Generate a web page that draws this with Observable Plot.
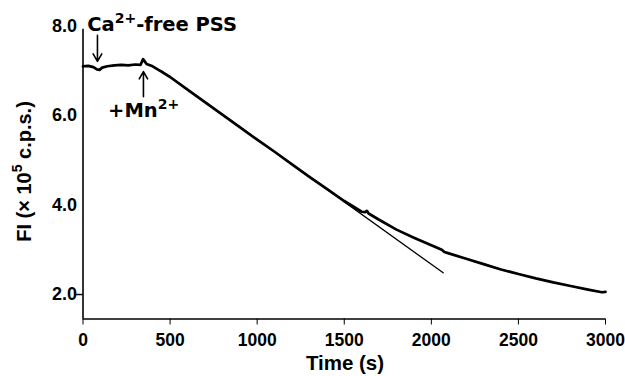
<!DOCTYPE html>
<html>
<head>
<meta charset="utf-8">
<script src="https://cdn.jsdelivr.net/npm/d3@7"></script>
<script src="https://cdn.jsdelivr.net/npm/@observablehq/plot@0.6"></script>
<style>
  html, body { margin: 0; padding: 0; background: white; }
</style>
</head>
<body>
<div id="chart"></div>
<script>
// Fluorescence trace (FI, x10^5 c.p.s.)
const time = [0, 30, 60, 80, 95, 110, 140, 180, 220, 260, 300, 330, 345, 352, 365, 400, 450, 500, 600, 700, 800, 900, 1000, 1100, 1200, 1300, 1400, 1500, 1600, 1620, 1630, 1640, 1700, 1800, 1900, 2000, 2060, 2075, 2100, 2200, 2300, 2400, 2500, 2600, 2700, 2800, 2900, 2980, 3000];
const fi   = [7.10, 7.11, 7.08, 7.03, 7.02, 7.07, 7.10, 7.12, 7.13, 7.12, 7.14, 7.13, 7.26, 7.22, 7.15, 7.10, 6.98, 6.86, 6.58, 6.30, 6.02, 5.74, 5.46, 5.19, 4.91, 4.63, 4.36, 4.09, 3.85, 3.84, 3.87, 3.81, 3.67, 3.45, 3.27, 3.10, 3.00, 2.95, 2.92, 2.80, 2.68, 2.56, 2.46, 2.36, 2.27, 2.19, 2.11, 2.05, 2.06];

// Fitted straight line (initial slope)
const fitTime = [450, 2068];
const fitFI   = [7.00, 2.485];

// Axes
const xTicks = [0, 500, 1000, 1500, 2000, 2500, 3000];
const yTicks = [2, 4, 6, 8];
const xDomain = [0, 3000];
const yDomain = [1.453, 8.0];
const yAxisTop = 7.93;
const xTitle = "Time (s)";
const yTitle = "FI (\u00d7 10{5} c.p.s.)";

// Annotations
const labelText = ["Ca{2+}-free PSS", "+Mn{2+}"];
const labelTime = [24, 144];
const labelFI   = [8.02, 6.10];
const arrowTime = [83, 347];
const arrowFrom = [7.79, 6.42];
const arrowTo   = [7.21, 6.98];

const curve = time.map((t, i) => ({t, v: fi[i]}));
const fit = fitTime.map((t, i) => ({t, v: fitFI[i]}));
const labels = labelText.map((s, i) => ({s, t: labelTime[i], v: labelFI[i]}));
const arrows = arrowTime.map((t, i) => ({t, v1: arrowFrom[i], v2: arrowTo[i]}));

const sans = "'Liberation Sans', Arial, Helvetica, sans-serif";
const wide = "'DejaVu Sans', 'Liberation Sans', Arial, sans-serif";

const chart = Plot.plot({
  width: 625,
  height: 376,
  marginLeft: 82.5,
  marginRight: 20,
  marginTop: 25.5,
  marginBottom: 57.5,
  x: {domain: xDomain},
  y: {domain: yDomain},
  style: {fontFamily: sans, fontWeight: "bold", fontSize: "17.5px", background: "white", color: "black", overflow: "visible"},
  marks: [
    Plot.axisX(xTicks, {tickSize: 6, tickPadding: 9, fontSize: 17.5, label: null, tickFormat: d => String(d)}),
    Plot.axisY(yTicks, {tickSize: 0, tickPadding: 6, fontSize: 18, tickFormat: d3.format(".1f"), label: null}),
    Plot.axisY([yTicks[0]], {tickSize: 7, tickFormat: () => "", label: null, strokeWidth: 1.5}),
    Plot.ruleX([xDomain[0]], {y1: yDomain[0], y2: yAxisTop, strokeWidth: 1.6}),
    Plot.ruleY([yDomain[0]], {strokeWidth: 1.6}),
    Plot.line(curve, {x: "t", y: "v", stroke: "black", strokeWidth: 2.7, strokeLinejoin: "round"}),
    Plot.line(fit, {x: "t", y: "v", stroke: "black", strokeWidth: 1.3}),
    Plot.arrow(arrows, {x: "t", y1: "v1", y2: "v2", stroke: "black", strokeWidth: 1.6, headLength: 9, bend: false}),
    Plot.text(labels, {x: "t", y: "v", text: "s", textAnchor: "start", lineAnchor: "middle", fontSize: 19.5, fontWeight: "bold", fontFamily: wide})
  ]
});

document.getElementById("chart").appendChild(chart);

// Superscripts: turn {..} into raised tspans
function superscript(textEl, size) {
  const s = textEl.textContent;
  if (!s.includes("{")) return;
  const parts = s.split(/(\{[^}]*\})/).filter(p => p.length);
  const tspans = textEl.querySelectorAll("tspan");
  const target = tspans.length ? tspans[0] : textEl;
  target.textContent = "";
  const ns = "http://www.w3.org/2000/svg";
  let pending = 0;
  parts.forEach(p => {
    const ts = document.createElementNS(ns, "tspan");
    if (p.startsWith("{")) {
      ts.textContent = p.slice(1, -1);
      ts.setAttribute("font-size", Math.round(size * 0.7));
      ts.setAttribute("dy", -size * 0.42);
      pending = size * 0.42;
    } else {
      ts.textContent = p;
      if (pending) { ts.setAttribute("dy", pending); pending = 0; }
    }
    target.appendChild(ts);
  });
}
chart.querySelectorAll("text").forEach(t => superscript(t, 19.5));

const svg = d3.select(chart);
// Y axis title
const yT = svg.append("text")
  .attr("transform", "translate(30.5,171.5) rotate(-90)")
  .attr("text-anchor", "middle")
  .attr("font-size", 20)
  .attr("font-weight", "bold")
  .attr("font-family", sans)
  .attr("fill", "black")
  .text(yTitle);
superscript(yT.node(), 20);
// X axis title
svg.append("text")
  .attr("x", 345)
  .attr("y", 370)
  .attr("text-anchor", "middle")
  .attr("font-size", 20.5)
  .attr("font-weight", "bold")
  .attr("font-family", sans)
  .attr("fill", "black")
  .text(xTitle);
</script>
</body>
</html>
